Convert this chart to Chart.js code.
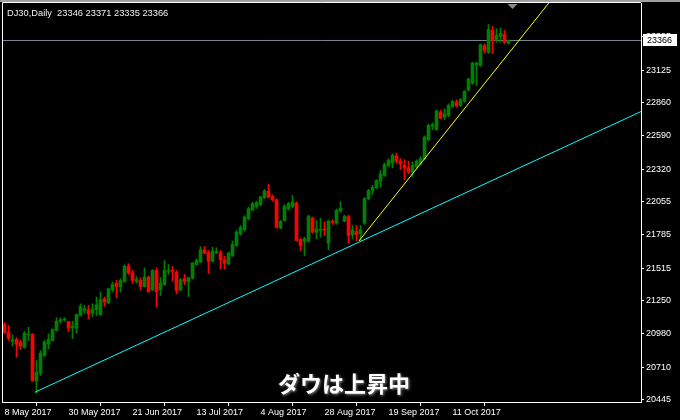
<!DOCTYPE html>
<html><head><meta charset="utf-8">
<script src="https://cdn.jsdelivr.net/npm/chart.js@4.4.1/dist/chart.umd.min.js"></script>
<style>html,body{margin:0;padding:0;background:#000;overflow:hidden}#wrap{width:680px;height:420px;position:relative}</style>
</head><body><div id="wrap"><canvas id="c" width="680" height="420"></canvas></div>
<script>
const symbol = 'DJ30';
const timeframe = 'Daily';
const openP = [21056,20993,20918,20934,20912,20871,20971,20975,20595,20660,20804,20899,20926,21007,21083,21092,21080,21029,21026,21129,
21170,21176,21148,21176,21137,21265,21232,21338,21392,21365,21406,21530,21476,21406,21414,21365,21441,21338,21495,21338,
21381,21489,21492,21481,21338,21428,21406,21433,21544,21563,21663,21642,21571,21640,21639,21585,21550,21617,21699,21793,
21826,21916,21989,22016,22032,22087,22140,22097,22070,21843,21902,21997,22016,22043,21747,21733,21733,21921,21807,21821,
21828,21717,21890,21880,21978,21896,21934,21786,21812,21794,21880,22078,22146,22168,22219,22268,22349,22368,22430,22384,
22349,22330,22295,22341,22363,22404,22558,22669,22642,22783,22742,22756,22829,22864,22837,22872,22963,23019,23169,23163,
23325,23271,23447,23366,23399,23415,23346];
const highP = [21072,21048,20972,20950,20926,20999,21034,20983,20763,20844,20926,20980,21021,21111,21111,21111,21080,21083,21140,21224,
21211,21211,21224,21278,21319,21278,21350,21400,21414,21428,21540,21550,21495,21446,21436,21517,21450,21503,21517,21436,
21576,21544,21528,21495,21430,21463,21441,21560,21590,21690,21690,21658,21685,21680,21658,21610,21645,21735,21820,21860,
21940,22010,22050,22060,22100,22155,22195,22110,22075,21905,22030,22050,22105,22055,21755,21765,21945,21930,21902,21921,
21888,21905,21910,21995,22056,21945,21945,21861,21861,21861,22090,22155,22187,22235,22309,22370,22404,22444,22449,22404,
22396,22384,22380,22395,22420,22590,22685,22697,22800,22797,22810,22850,22880,22884,22895,22960,23060,23190,23190,23340,
23339,23496,23480,23461,23469,23447,23371];
const lowP = [20983,20926,20880,20790,20853,20861,20926,20592,20497,20641,20796,20858,20920,21001,21067,21083,20999,20940,20985,21125,
21148,21102,21121,21129,21129,21205,21225,21319,21273,21319,21400,21463,21392,21392,21338,21359,21318,21330,21197,21292,
21373,21463,21408,21307,21330,21381,21284,21425,21536,21560,21630,21473,21563,21631,21508,21508,21540,21610,21690,21780,
21815,21905,21980,22000,22020,22080,22085,22060,21840,21835,21895,21985,22005,21735,21658,21617,21725,21800,21753,21766,
21780,21664,21870,21870,21970,21890,21717,21753,21739,21739,21870,22070,22113,22160,22172,22260,22340,22330,22368,22314,
22233,22282,22260,22330,22355,22395,22550,22640,22635,22729,22721,22745,22820,22824,22830,22865,22955,23010,23000,23155,
23263,23260,23258,23352,23352,23339,23335];
const closeP = [20993,20945,20932,20896,20880,20985,20979,20600,20668,20822,20912,20934,21015,21083,21094,21095,21026,21042,21137,21202,
21184,21143,21178,21216,21257,21238,21346,21381,21365,21414,21530,21476,21414,21422,21365,21441,21324,21495,21324,21392,
21495,21494,21489,21332,21420,21406,21436,21555,21576,21663,21636,21571,21650,21650,21582,21555,21636,21707,21807,21842,
21929,21997,22038,22046,22092,22140,22092,22070,21847,21894,22016,22038,22051,21739,21698,21753,21934,21807,21834,21831,
21824,21896,21886,21983,22002,21934,21780,21826,21786,21826,22078,22146,22173,22227,22282,22357,22390,22430,22384,22363,
22330,22295,22349,22384,22404,22580,22675,22680,22792,22734,22770,22837,22870,22837,22884,22951,23052,23182,23182,23331,
23285,23455,23366,23407,23425,23352,23366];
const xTickIndex = [0,16,32,48,64,80,96,112];
const xTickLabels = ['8 May 2017','30 May 2017','21 Jun 2017','13 Jul 2017','4 Aug 2017','28 Aug 2017','19 Sep 2017','11 Oct 2017'];
const yTicks = [20445,20710,20980,21250,21515,21785,22055,22320,22590,22860,23125,23395];
const supportLine = [{x:7.6,y:20505},{x:159.125,y:22788}];
const trendLine = [{x:88.6,y:21735},{x:140,y:23831}];
const caption = 'ダウは上昇中';

const BULL = '#008000', BEAR = '#ff0000';
const n = openP.length;
const idx = openP.map((_, i) => i);
const colors = idx.map(i => closeP[i] >= openP[i] ? BULL : BEAR);
const last = n - 1;
const X_MIN = -0.625, X_MAX = 159.125;
const FONT = {family: "'Liberation Sans', Arial, sans-serif", size: 9};

const deco = {
  id: 'deco',
  beforeDraw(chart) {
    const c = chart.ctx;
    c.save();
    c.fillStyle = '#000';
    c.fillRect(0, 0, chart.width, chart.height);
    c.restore();
  },
  afterDraw(chart) {
    const c = chart.ctx, a = chart.chartArea;
    const ys = chart.scales.y, xs = chart.scales.x;
    c.save();
    c.fillStyle = '#a0a0a0';
    c.fillRect(0, 0, chart.width, 2);
    c.strokeStyle = '#fff';
    c.lineWidth = 1;
    c.beginPath();
    c.moveTo(a.left + 0.5, a.top - 0.5); c.lineTo(a.right, a.top - 0.5);
    c.moveTo(a.left + 0.5, a.top - 0.5); c.lineTo(a.left + 0.5, a.bottom);
    c.stroke();
    c.fillStyle = '#f0f0f0';
    c.font = "9.3px 'Liberation Sans', Arial, sans-serif";
    c.textBaseline = 'middle';
    c.textAlign = 'left';
    c.fillText(symbol + ',' + timeframe + '  ' + openP[last] + ' ' + highP[last] + ' ' + lowP[last] + ' ' + closeP[last], 7, 13);
    const py = Math.round(ys.getPixelForValue(closeP[last]));
    c.fillStyle = '#fff';
    c.fillRect(a.right + 2, py - 6, 34, 12);
    c.fillStyle = '#000';
    c.font = "9px 'Liberation Sans', Arial, sans-serif";
    c.fillText(String(closeP[last]), a.right + 6, py + 0.5);
    const sx = xs.getPixelForValue(n);
    c.fillStyle = '#8a8a8a';
    c.beginPath();
    c.moveTo(sx - 5, a.top + 1); c.lineTo(sx + 5, a.top + 1); c.lineTo(sx, a.top + 6); c.closePath();
    c.fill();
    c.font = "bold 22px 'Noto Sans CJK JP', sans-serif";
    c.textAlign = 'center';
    c.textBaseline = 'middle';
    c.shadowColor = 'rgba(140,140,140,0.95)';
    c.shadowBlur = 3;
    c.shadowOffsetX = 1; c.shadowOffsetY = 1;
    c.fillStyle = '#fff';
    c.fillText(caption, 344, 384);
    c.restore();
  }
};

new Chart(document.getElementById('c'), {
  type: 'bar',
  data: {
    datasets: [
      {type: 'line', data: [{x: X_MIN, y: closeP[last]}, {x: X_MAX, y: closeP[last]}], borderColor: '#778899', borderWidth: 1, pointRadius: 0, order: 5},
      {type: 'line', data: supportLine, borderColor: '#00ffff', borderWidth: 1, pointRadius: 0, order: 0},
      {type: 'line', data: trendLine, borderColor: '#ffff00', borderWidth: 1, pointRadius: 0, order: 0},
      {type: 'bar', data: idx.map(i => ({x: i, y: [lowP[i], highP[i]]})), backgroundColor: colors, borderWidth: 0, barThickness: 1, grouped: false, minBarLength: 1, order: 2},
      {type: 'bar', data: idx.map(i => ({x: i, y: [openP[i], closeP[i]]})), backgroundColor: colors, borderWidth: 0, barThickness: 3, grouped: false, minBarLength: 1, order: 1}
    ]
  },
  options: {
    responsive: false,
    animation: false,
    devicePixelRatio: 1,
    layout: {padding: {left: 2, top: 3, right: 0, bottom: 0}},
    plugins: {legend: {display: false}, tooltip: {enabled: false}},
    scales: {
      x: {
        type: 'linear', min: X_MIN, max: X_MAX, offset: false,
        afterBuildTicks: s => { s.ticks = xTickIndex.map(v => ({value: v})); },
        afterFit: s => { s.height = 18; s.paddingLeft = 0; s.paddingRight = 0; },
        ticks: {callback: (v, i) => xTickLabels[i], align: 'start', color: '#fff', font: FONT, maxRotation: 0, autoSkip: false, padding: 1},
        grid: {drawOnChartArea: false, tickLength: 4, color: '#fff'},
        border: {color: '#fff', width: 1}
      },
      y: {
        position: 'right', min: 20425.5, max: 23671,
        afterBuildTicks: s => { s.ticks = yTicks.map(v => ({value: v})); },
        afterFit: s => { s.width = 39; s.paddingTop = 0; s.paddingBottom = 0; },
        ticks: {callback: v => String(v), color: '#fff', crossAlign: 'near', padding: 2, font: FONT, autoSkip: false},
        grid: {drawOnChartArea: false, tickLength: 3, color: '#fff'},
        border: {color: '#fff', width: 1}
      }
    }
  },
  plugins: [deco]
});
</script></body></html>
